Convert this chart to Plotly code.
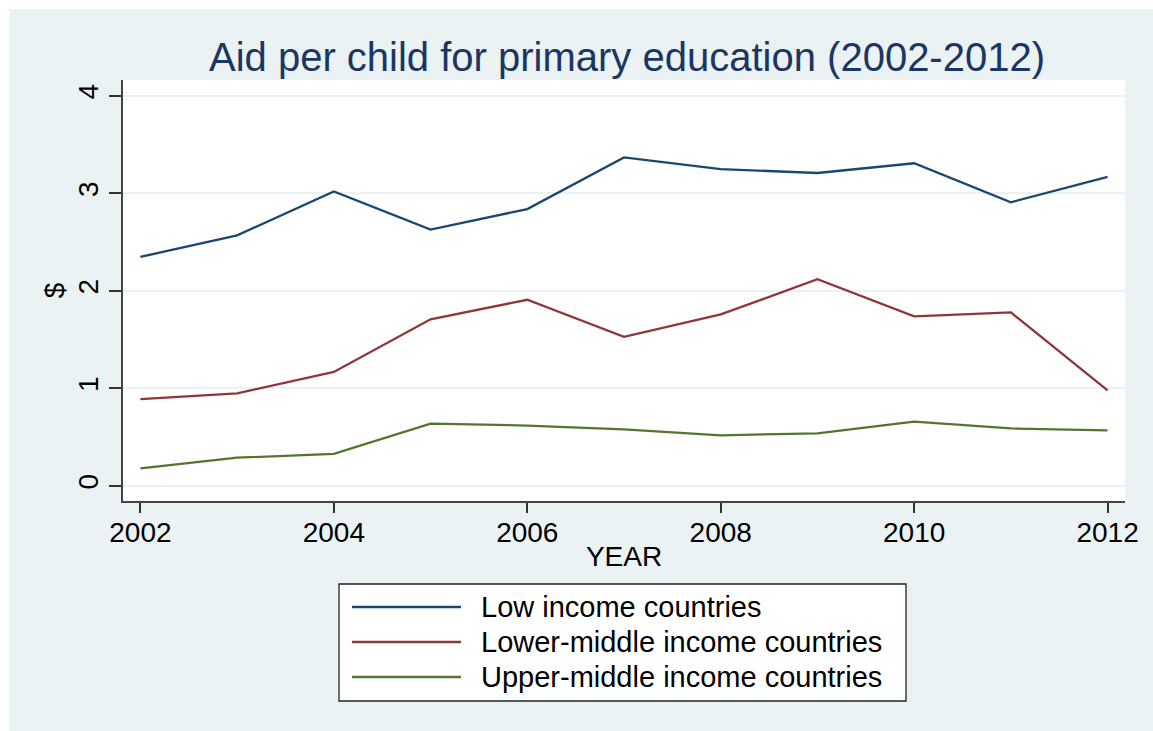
import plotly.graph_objects as go

years = [2002, 2003, 2004, 2005, 2006, 2007, 2008, 2009, 2010, 2011, 2012]
low_income = [2.35, 2.57, 3.02, 2.63, 2.84, 3.37, 3.25, 3.21, 3.31, 2.91, 3.17]
lower_middle = [0.89, 0.95, 1.17, 1.71, 1.91, 1.53, 1.76, 2.12, 1.74, 1.78, 0.98]
upper_middle = [0.18, 0.29, 0.33, 0.64, 0.62, 0.58, 0.52, 0.54, 0.66, 0.59, 0.57]

series_names = ["Low income countries", "Lower-middle income countries", "Upper-middle income countries"]
series_values = [low_income, lower_middle, upper_middle]
series_colors = ["#1A476F", "#90353B", "#55752F"]

x_ticks = [2002, 2004, 2006, 2008, 2010, 2012]
y_ticks = [0, 1, 2, 3, 4]

BG = "#EAF2F3"
FONT = "Liberation Sans, Arial, sans-serif"

W, H = 1153, 731
L, T, R, B = 123, 80, 28, 230
PW, PH = W - L - R, H - T - B


def px_x(page_x):
    return (page_x - L) / PW


def px_y(page_y):
    return (H - B - page_y) / PH


fig = go.Figure()
for name, vals, col in zip(series_names, series_values, series_colors):
    fig.add_trace(go.Scatter(
        x=years, y=vals, mode="lines", name=name,
        line=dict(color=col, width=2.3),
        showlegend=False,
    ))

# white frame on top / left edges, as in the original export
shapes = [
    dict(type="rect", xref="paper", yref="paper", layer="below",
         x0=px_x(0), x1=px_x(W), y0=px_y(9), y1=px_y(0),
         fillcolor="white", line=dict(width=0)),
    dict(type="rect", xref="paper", yref="paper", layer="below",
         x0=px_x(0), x1=px_x(9), y0=px_y(H), y1=px_y(0),
         fillcolor="white", line=dict(width=0)),
]
# legend drawn as a Stata-style key box
shapes.append(dict(type="rect", xref="paper", yref="paper",
                   x0=px_x(339), x1=px_x(906), y0=px_y(701), y1=px_y(584),
                   fillcolor="white", line=dict(color="#222222", width=1.3)))
annotations = []
row_y = [607, 642, 677]
for name, col, ry in zip(series_names, series_colors, row_y):
    shapes.append(dict(type="line", xref="paper", yref="paper",
                       x0=px_x(352), x1=px_x(461), y0=px_y(ry), y1=px_y(ry),
                       line=dict(color=col, width=2.3)))
    annotations.append(dict(text=name, xref="paper", yref="paper",
                            x=px_x(479), y=px_y(ry), xanchor="left", yanchor="middle",
                            showarrow=False, font=dict(family=FONT, size=29, color="black")))

fig.update_layout(
    width=W, height=H,
    margin=dict(l=L, r=R, t=T, b=B),
    paper_bgcolor=BG,
    plot_bgcolor="white",
    font=dict(family=FONT, color="black", size=28),
    title=dict(
        text="Aid per child for primary education (2002-2012)",
        font=dict(family=FONT, size=40, color="#1C3563"),
        x=627 / W, xanchor="center", y=1 - 57 / H, yanchor="middle",
    ),
    showlegend=False,
    shapes=shapes,
    annotations=annotations,
)

fig.update_xaxes(
    range=[2001.82, 2012.18],
    tickvals=x_ticks, ticktext=[str(v) for v in x_ticks],
    ticks="outside", ticklen=10, tickcolor="#333333", tickwidth=1.5,
    ticklabelstandoff=-5,
    showline=True, linecolor="#444444", linewidth=2,
    showgrid=False, zeroline=False,
    tickfont=dict(size=28),
    title=dict(text="YEAR", font=dict(size=28), standoff=0),
)
fig.update_yaxes(
    range=[-0.154, 4.164],
    tickvals=y_ticks, ticktext=[str(v) for v in y_ticks],
    ticks="outside", ticklen=12, tickcolor="#333333", tickwidth=1.5,
    tickangle=-90,
    showline=True, linecolor="#444444", linewidth=2,
    showgrid=True, gridcolor=BG, gridwidth=2,
    zeroline=False,
    tickfont=dict(size=28),
    title=dict(text="$", font=dict(size=28), standoff=0),
)

fig.write_html("out.html",
               config={"displayModeBar": False},
               post_script="document.body.style.margin='0';document.body.style.overflow='hidden';")
